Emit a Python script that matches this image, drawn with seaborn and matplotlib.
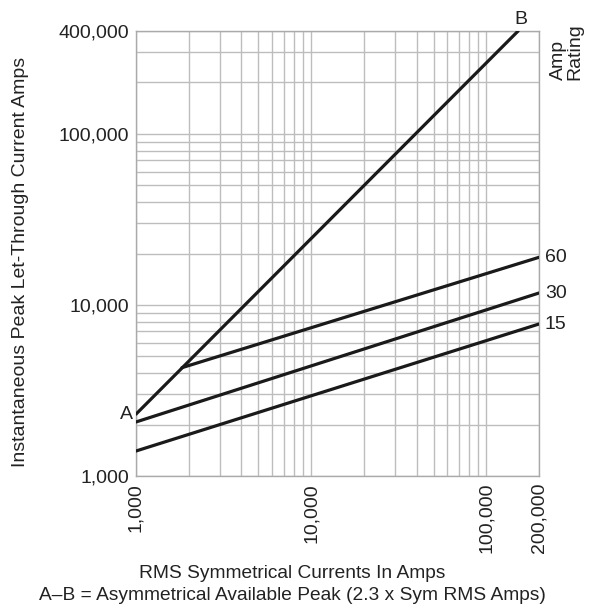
import matplotlib
matplotlib.use("Agg")
import matplotlib.pyplot as plt
import matplotlib.ticker as mticker
import seaborn as sns

# valeurs (log-log)
rms_ab = [1000, 152000]
peak_ab = [2300, 400000]
rms_60 = [1830, 200000]
peak_60 = [4300, 19000]
rms_30 = [1000, 200000]
peak_30 = [2070, 11750]
rms_15 = [1000, 200000]
peak_15 = [1400, 7740]
ratings = ["60", "30", "15"]

x_ticks = [1000, 10000, 100000, 200000]
y_ticks = [1000, 10000, 100000, 400000]

sns.set_style("white")
plt.rcParams['font.family'] = ['Liberation Sans', 'DejaVu Sans']

W, H = 597, 613
fig = plt.figure(figsize=(W / 100, H / 100), dpi=100)
ax = fig.add_axes([136 / W, 1 - 476 / H, 403 / W, 445 / H])

for xs, ys in [(rms_ab, peak_ab), (rms_60, peak_60), (rms_30, peak_30), (rms_15, peak_15)]:
    sns.lineplot(x=xs, y=ys, ax=ax, color='#1a1a1a', linewidth=2.3, zorder=5)

ax.set_xscale('log')
ax.set_yscale('log')
ax.set_xlim(1000, 200000)
ax.set_ylim(1000, 400000)

ax.xaxis.set_major_locator(mticker.FixedLocator(x_ticks))
ax.yaxis.set_major_locator(mticker.FixedLocator(y_ticks))
ax.xaxis.set_minor_locator(mticker.LogLocator(base=10, subs=range(2, 10), numticks=20))
ax.yaxis.set_minor_locator(mticker.LogLocator(base=10, subs=range(2, 10), numticks=20))
ax.xaxis.set_minor_formatter(mticker.NullFormatter())
ax.yaxis.set_minor_formatter(mticker.NullFormatter())
fmt = mticker.FuncFormatter(lambda v, p: f"{int(v):,}")
ax.xaxis.set_major_formatter(fmt)
ax.yaxis.set_major_formatter(fmt)

ax.grid(True, which='both', color='#bdbdbd', linewidth=1.0)
ax.tick_params(which='both', length=0, labelsize=14, colors='#222222', pad=5)
plt.setp(ax.get_xticklabels(), rotation=90)
for s in ax.spines.values():
    s.set_color('#aaaaaa')
    s.set_linewidth(1.0)
ax.set_xlabel("")
ax.set_ylabel("")

# étiquettes des courbes
ax.text(rms_ab[1] * 1.04, peak_ab[1] * 1.04, "B", fontsize=14, ha='center', va='bottom', color='#222222')
ax.text(rms_ab[0] * 0.96, peak_ab[0], "A", fontsize=14, ha='right', va='center', color='#222222')
for lab, yv in zip(ratings, [peak_60[1], peak_30[1], peak_15[1]]):
    ax.text(200000 * 1.08, yv, lab, fontsize=14, ha='left', va='center', color='#222222')

fig.text(567 / W, 1 - 80 / H, "Amp\nRating", rotation=90, fontsize=14, ha='center', va='bottom',
         multialignment='left', linespacing=0.95, color='#222222')
fig.text(21 / W, 1 - 262 / H, "Instantaneous Peak Let-Through Current Amps", rotation=90,
         fontsize=14, ha='center', va='center', color='#222222')
fig.text(292 / W, 1 - 573 / H, "RMS Symmetrical Currents In Amps", fontsize=13.8,
         ha='center', va='center', color='#222222')
fig.text(292 / W, 1 - 596 / H, "A–B = Asymmetrical Available Peak (2.3 x Sym RMS Amps)", fontsize=13.8,
         ha='center', va='center', color='#222222')

plt.savefig("out.png", dpi=100)
plt.close()
